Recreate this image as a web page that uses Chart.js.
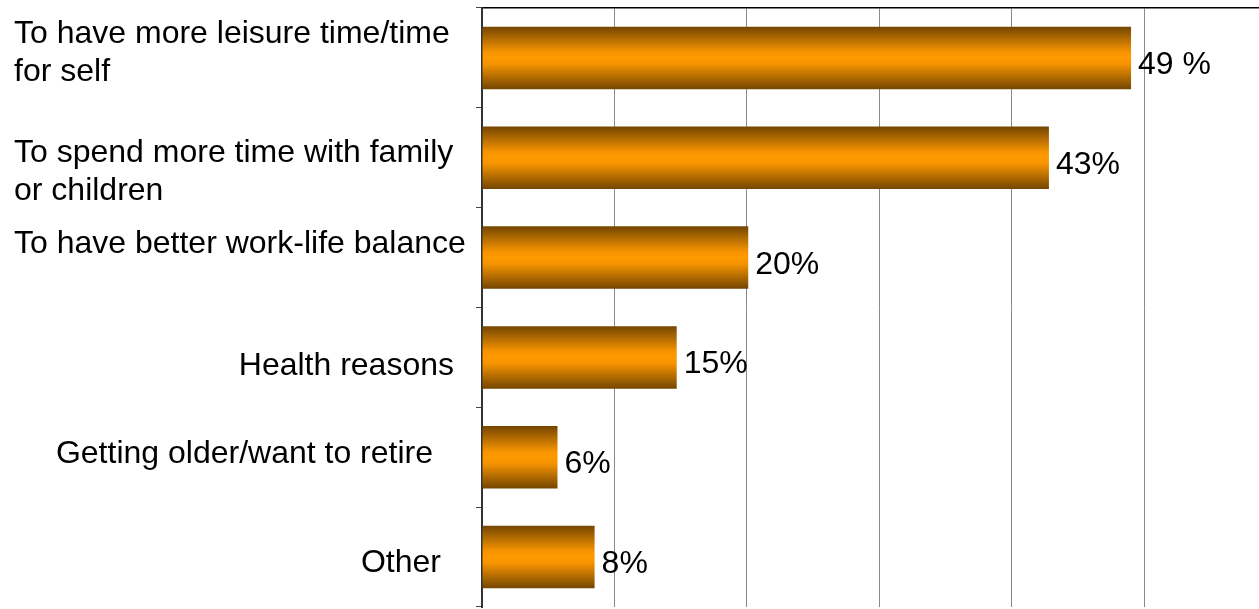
<!DOCTYPE html>
<html>
<head>
<meta charset="utf-8">
<script src="https://cdn.jsdelivr.net/npm/chart.js@4.4.0/dist/chart.umd.min.js"></script>
<style>
  html, body { margin: 0; padding: 0; background: #fff; }
  #wrap { width: 1259px; height: 609px; position: relative; }
</style>
</head>
<body>
<div id="wrap"><canvas id="reasonsChart"></canvas></div>
<script>
// Données du graphique
const categories = [
    ['To have more leisure time/time', 'for self'],
    ['To spend more time with family', 'or children'],
    ['To have better work-life balance'],
    ['Health reasons'],
    ['Getting older/want to retire'],
    ['Other']
];
const values = [49, 42.8, 20.1, 14.7, 5.7, 8.5];
const valueLabels = ['49 %', '43%', '20%', '15%', '6%', '8%'];
const gridSteps = [10, 20, 30, 40, 50];

// Mise en page des libellés (alignement irrégulier comme l'original)
const labelLayout = [
    { x: 14, align: 'left', dy: -15 },
    { x: 14, align: 'left', dy: 4 },
    { x: 14, align: 'left', dy: -4.5 },
    { x: 454, align: 'right', dy: 18 },
    { x: 433, align: 'right', dy: 6 },
    { x: 441, align: 'right', dy: 15 }
];
const FONT = '32px "Liberation Sans", Arial, sans-serif';
const LINE_H = 38;
const BAR_FRACTION = 0.626;

// Dégradé vertical de chaque barre
function barGradient(ctx) {
    const chart = ctx.chart;
    const yScale = chart.scales.y;
    if (!chart.chartArea || !yScale || ctx.dataIndex === undefined) return '#ff9900';
    const c = yScale.getPixelForValue(ctx.dataIndex);
    const half = (yScale.height / categories.length) * BAR_FRACTION / 2;
    const g = chart.ctx.createLinearGradient(0, c - half, 0, c + half);
    g.addColorStop(0, '#744600');
    g.addColorStop(0.4, '#f59300');
    g.addColorStop(0.5, '#ff9900');
    g.addColorStop(0.6, '#f59300');
    g.addColorStop(1, '#744600');
    return g;
}

// Libellés des catégories et des valeurs
const labelsPlugin = {
    id: 'labelsPlugin',
    afterDraw(chart) {
        const ctx = chart.ctx;
        const xs = chart.scales.x;
        const ys = chart.scales.y;
        ctx.save();
        ctx.font = FONT;
        ctx.fillStyle = '#000';
        ctx.textBaseline = 'alphabetic';
        categories.forEach((lines, i) => {
            const lay = labelLayout[i];
            const c = ys.getPixelForValue(i);
            ctx.textAlign = lay.align;
            lines.forEach((line, k) => {
                ctx.fillText(line, lay.x, c + lay.dy + k * LINE_H);
            });
        });
        ctx.textAlign = 'left';
        values.forEach((v, i) => {
            ctx.fillText(valueLabels[i], xs.getPixelForValue(v) + 7, ys.getPixelForValue(i) + 16);
        });
        ctx.restore();
    }
};

const chart = new Chart(document.getElementById('reasonsChart'), {
    type: 'bar',
    data: {
        labels: categories.map(l => l.join(' ')),
        datasets: [{
            data: values,
            backgroundColor: barGradient,
            borderWidth: 0,
            barPercentage: BAR_FRACTION,
            categoryPercentage: 1
        }]
    },
    options: {
        indexAxis: 'y',
        responsive: true,
        maintainAspectRatio: false,
        animation: false,
        layout: { padding: { left: 476, top: 8, right: 0, bottom: 2 } },
        plugins: {
            legend: { display: false },
            tooltip: { enabled: false }
        },
        scales: {
            x: {
                position: 'top',
                min: 0,
                max: 58.66,
                ticks: { display: false, stepSize: 10 },
                grid: {
                    drawTicks: false,
                    color: c => gridSteps.includes(c.tick && c.tick.value) ? '#8a8a8a' : 'rgba(0,0,0,0)',
                    lineWidth: 1
                },
                border: { display: true, color: '#000', width: 1.5 }
            },
            y: {
                offset: true,
                ticks: { display: false },
                grid: {
                    drawOnChartArea: false,
                    drawTicks: true,
                    tickLength: 6,
                    color: '#444',
                    offset: true
                },
                border: { display: true, color: '#333', width: 2 }
            }
        }
    },
    plugins: [labelsPlugin]
});
</script>
</body>
</html>
